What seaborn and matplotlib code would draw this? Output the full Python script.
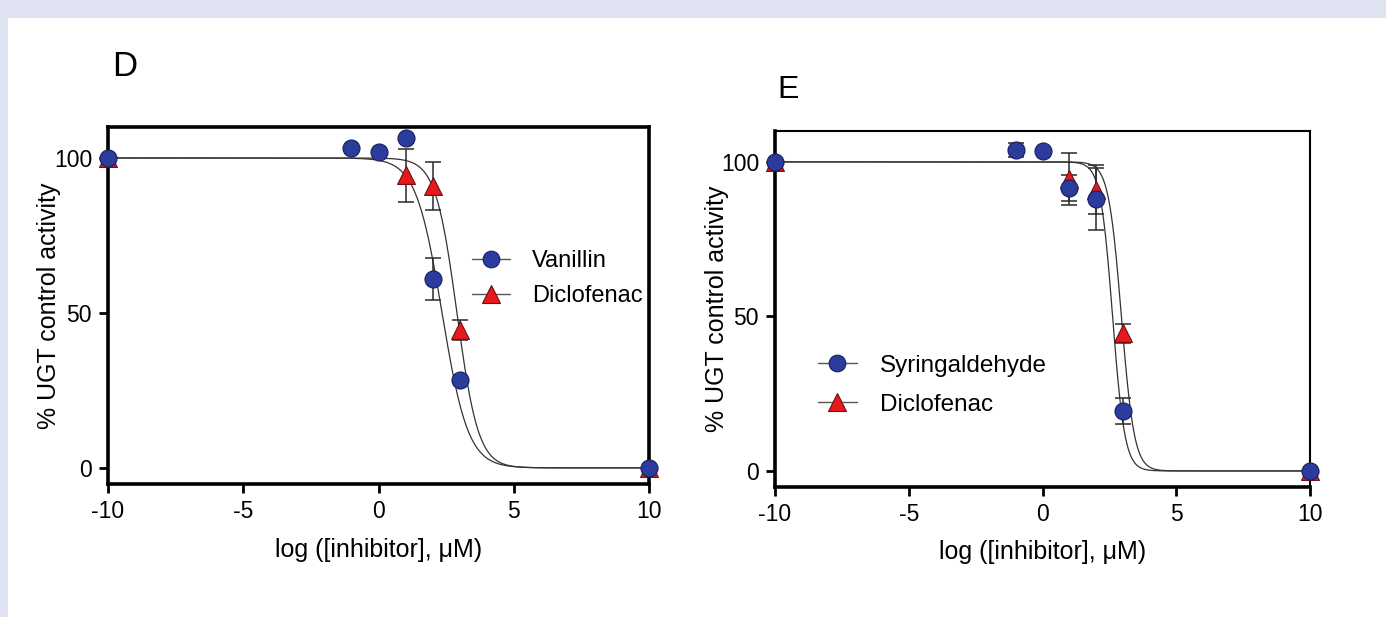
import numpy as np
import pandas as pd
import matplotlib
matplotlib.use("Agg")
import matplotlib.pyplot as plt
from matplotlib.lines import Line2D
from matplotlib.patches import Rectangle
import seaborn as sns

# ---------------- data ----------------
# Panel D
d_van_x = [-10, -1, 0, 1, 2, 3, 10]
d_van_y = [100, 103.1, 101.8, 106.4, 61.0, 28.4, 0]
d_van_err = [0, 0, 0, 0, 6.8, 0, 0]
d_dic_x = [-10, 1, 2, 3, 10]
d_dic_y = [100, 94.4, 91.0, 44.5, 0]
d_dic_err = [0, 8.5, 7.7, 3.2, 0]
# fitted curve parameters (log IC50, Hill slope)
d_van_fit = (2.35, 0.9)
d_dic_fit = (2.9, 1.1)

# Panel E
e_syr_x = [-10, -1, 0, 1, 2, 3, 10]
e_syr_y = [100, 103.8, 103.5, 91.6, 88.0, 19.3, 0]
e_syr_err = [0, 2.3, 0, 4.2, 10.1, 4.2, 0]
e_dic_x = [-10, 1, 2, 3, 10]
e_dic_y = [100, 94.5, 91.0, 44.5, 0]
e_dic_err = [0, 8.4, 7.9, 3.2, 0]
e_syr_fit = (2.62, 1.9)
e_dic_fit = (2.95, 1.8)

x_ticks = [-10, -5, 0, 5, 10]
y_ticks = [0, 50, 100]
x_label = "log ([inhibitor], μM)"
y_label = "% UGT control activity"

# ---------------- style ----------------
sns.set_theme(style="ticks")
plt.rcParams['font.family'] = ['Liberation Sans', 'DejaVu Sans']
plt.rcParams['axes.unicode_minus'] = False
plt.rcParams['axes.edgecolor'] = 'black'
plt.rcParams['xtick.color'] = 'black'
plt.rcParams['ytick.color'] = 'black'
plt.rcParams['text.color'] = 'black'
plt.rcParams['axes.labelcolor'] = 'black'

W, H = 1386, 617
fig = plt.figure(figsize=(W / 100, H / 100), dpi=100, facecolor='white')
band = '#dfe3f1'
fig.patches.append(Rectangle((0, 1 - 18 / H), 1, 18 / H, transform=fig.transFigure,
                             facecolor=band, edgecolor='none', zorder=0))
fig.patches.append(Rectangle((0, 0), 8 / W, 1, transform=fig.transFigure,
                             facecolor=band, edgecolor='none', zorder=0))

axD = fig.add_axes([108 / W, 1 - 484 / H, 541 / W, 357 / H])
axE = fig.add_axes([775 / W, 1 - 487 / H, 535 / W, 356 / H])

BLUE = '#2b3b9e'
BLUE_E = '#15205e'
RED = '#e8191c'
RED_E = '#6a1010'
CURVE = '#333333'


def hill(x, p):
    logic50, h = p
    return 100.0 / (1.0 + 10 ** ((x - logic50) * h))


def draw_panel(ax, sets, spine_w):
    xs = np.linspace(-10, 10, 801)
    for (x, y, err, fit, mk, fc, ec, lab) in sets:
        cdf = pd.DataFrame({'x': xs, 'y': hill(xs, fit)})
        sns.lineplot(data=cdf, x='x', y='y', ax=ax, color=CURVE, lw=0.9,
                     legend=False, zorder=2)
    for (x, y, err, fit, mk, fc, ec, lab) in sets:
        xe = [a for a, e in zip(x, err) if e > 0]
        ye = [b for b, e in zip(y, err) if e > 0]
        ee = [e for e in err if e > 0]
        ax.errorbar(xe, ye, yerr=ee, fmt='none', ecolor='#2a2a2a', elinewidth=1.1,
                    capsize=6, capthick=1.1, zorder=3)
    order = [sets[1], sets[0]]
    for z, (x, y, err, fit, mk, fc, ec, lab) in enumerate(order):
        df = pd.DataFrame({'x': x, 'y': y})
        sns.scatterplot(data=df, x='x', y='y', ax=ax, marker=mk, s=165 if mk == '^' else 150,
                        color=fc, edgecolor=ec, linewidth=0.8, zorder=4 + z,
                        clip_on=False, legend=False)
    ax.set_xlim(-10, 10)
    ax.set_ylim(-5.2, 110)
    ax.set_xticks(x_ticks)
    ax.set_yticks(y_ticks)
    ax.tick_params(axis='both', direction='out', length=6.5, width=2.0,
                   labelsize=16.5, pad=5)
    for side, w in spine_w.items():
        ax.spines[side].set_linewidth(w)
        ax.spines[side].set_visible(True)
    ax.set_facecolor('white')
    ax.set_xlabel(x_label, fontsize=18)
    ax.set_ylabel(y_label, fontsize=18)


setsD = [
    (d_van_x, d_van_y, d_van_err, d_van_fit, 'o', BLUE, BLUE_E, 'Vanillin'),
    (d_dic_x, d_dic_y, d_dic_err, d_dic_fit, '^', RED, RED_E, 'Diclofenac'),
]
setsE = [
    (e_syr_x, e_syr_y, e_syr_err, e_syr_fit, 'o', BLUE, BLUE_E, 'Syringaldehyde'),
    (e_dic_x, e_dic_y, e_dic_err, e_dic_fit, '^', RED, RED_E, 'Diclofenac'),
]

draw_panel(axD, setsD, {'left': 2.6, 'bottom': 2.6, 'top': 2.6, 'right': 2.6})
draw_panel(axE, setsE, {'left': 2.6, 'bottom': 2.6, 'top': 1.5, 'right': 1.5})

axD.yaxis.set_label_coords(-0.086, 0.5)
axD.xaxis.set_label_coords(0.5, -0.15)
axE.yaxis.set_label_coords(-0.086, 0.5)
axE.xaxis.set_label_coords(0.5, -0.15)


def make_handles(sets):
    hs = []
    for (x, y, err, fit, mk, fc, ec, lab) in sets:
        hs.append(Line2D([0], [0], color='#555555', lw=1.0, marker=mk,
                         markersize=12 if mk == 'o' else 12.5, markerfacecolor=fc,
                         markeredgecolor=ec, markeredgewidth=0.8, label=lab))
    return hs


legD = axD.legend(handles=make_handles(setsD), loc='upper left',
                  bbox_to_anchor=(0.673, 0.655), frameon=False, fontsize=17,
                  handlelength=1.6, handletextpad=0.95, labelspacing=0.55,
                  borderpad=0, borderaxespad=0)
legE = axE.legend(handles=make_handles(setsE), loc='upper left',
                  bbox_to_anchor=(0.080, 0.372), frameon=False, fontsize=17.5,
                  handlelength=1.6, handletextpad=0.95, labelspacing=0.7,
                  borderpad=0, borderaxespad=0)

fig.text(112 / W, 1 - 76 / H, 'D', fontsize=25, ha='left', va='baseline')
fig.text(777 / W, 1 - 98 / H, 'E', fontsize=23, ha='left', va='baseline')

fig.savefig('out.png', dpi=100, facecolor='white')
